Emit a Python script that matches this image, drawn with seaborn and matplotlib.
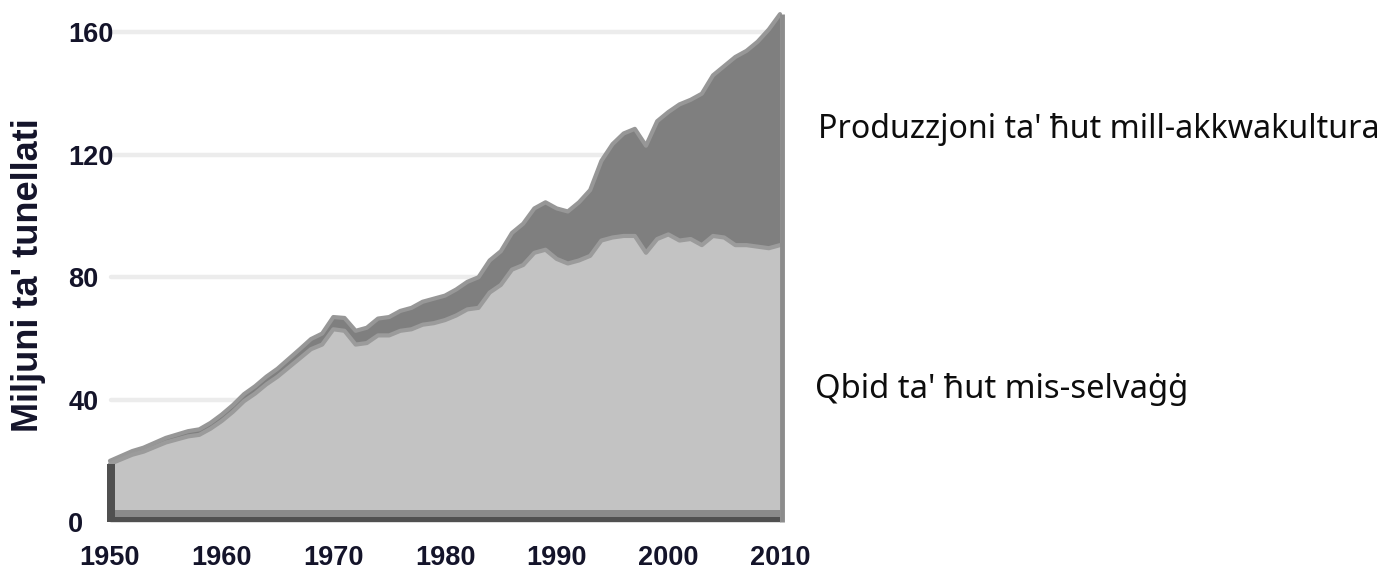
import matplotlib
matplotlib.use("Agg")
import matplotlib.pyplot as plt
from matplotlib import font_manager
import seaborn as sns
import numpy as np
import pandas as pd

# ---------------- data (million tonnes) ----------------
years = list(range(1950, 2011))
wild_capture = [19.0, 20.5, 22.0, 23.0, 24.5, 26.0, 27.0, 28.0, 28.5, 30.5,
                33.0, 36.0, 39.5, 42.0, 45.0, 47.5, 50.5, 53.5, 56.5, 58.0,
                63.0, 62.5, 58.0, 58.5, 61.0, 61.0, 62.5, 63.0, 64.5, 65.0,
                66.0, 67.5, 69.5, 70.0, 75.0, 77.5, 82.5, 84.0, 88.0, 89.0,
                86.0, 84.5, 85.5, 87.0, 92.0, 93.0, 93.5, 93.5, 88.0, 92.5,
                94.0, 92.0, 92.5, 90.5, 93.5, 93.0, 90.5, 90.5, 90.0, 89.5,
                90.5]
aquaculture = [1.0, 1.1, 1.2, 1.3, 1.4, 1.5, 1.6, 1.7, 1.8, 1.9,
               2.1, 2.2, 2.3, 2.4, 2.5, 2.6, 2.8, 3.0, 3.3, 3.6,
               4.0, 4.2, 4.5, 5.0, 5.5, 6.0, 6.5, 7.0, 7.5, 8.0,
               8.0, 8.5, 9.0, 10.0, 10.5, 11.0, 12.0, 13.5, 14.5, 15.5,
               16.5, 17.0, 19.0, 21.5, 26.0, 30.5, 33.5, 35.0, 35.0, 38.5,
               40.0, 44.5, 45.5, 49.5, 52.5, 56.0, 61.5, 63.5, 67.0, 71.5,
               75.5]
x_ticks = [1950, 1960, 1970, 1980, 1990, 2000, 2010]
y_ticks = [0, 40, 80, 120, 160]
y_label = "Miljuni ta' tunellati"
label_aqua = "Produzzjoni ta' ħut mill-akkwakultura"
label_wild = "Qbid ta' ħut mis-selvaġġ"

df = pd.DataFrame({"year": years, "wild": wild_capture, "aqua": aquaculture})
df["total"] = df["wild"] + df["aqua"]

# ---------------- style ----------------
sns.set_theme(style="white")
names = {f.name for f in font_manager.fontManager.ttflist}
bold_sans = "Liberation Sans" if "Liberation Sans" in names else "DejaVu Sans"
label_font = "Noto Sans" if "Noto Sans" in names else "DejaVu Sans"
plt.rcParams["font.family"] = [bold_sans, "DejaVu Sans"]

C_LIGHT = "#c3c3c3"
C_DARK = "#7f7f7f"
C_MID = "#9b9b9b"
C_TOP = "#979797"
C_BASE = "#505050"
C_BASE2 = "#8a8a8a"
TXT = "#14142a"

W, H = 1397, 572
fig = plt.figure(figsize=(W / 100, H / 100), dpi=100)
ax_left = 104.4 / W
ax_right = 785.6 / W
ax_bottom = (H - 525.1) / H
ax_top = (H - 8.0) / H
ax = fig.add_axes([ax_left, ax_bottom, ax_right - ax_left, ax_top - ax_bottom])

ax.set_xlim(1949.5, 2010.5)
ax.set_ylim(-1, 168)

# gridlines
for yt in y_ticks[1:]:
    ax.axhline(yt, xmin=0.01, xmax=0.99, color="#ececec", lw=3.2, zorder=0)

# stacked areas
ax.fill_between(df["year"], 0, df["wild"], color=C_LIGHT, lw=0, zorder=2)
ax.fill_between(df["year"], df["wild"], df["total"], color=C_DARK, lw=0, zorder=2)

# boundaries
sns.lineplot(data=df, x="year", y="total", ax=ax, color=C_TOP, lw=3.0, zorder=3)
sns.lineplot(data=df, x="year", y="wild", ax=ax, color=C_MID, lw=3.0, zorder=3)

# pseudo-3D base / edges
yrs = np.array(years, dtype=float)
ax.fill_between(yrs, 0, 3.8, color=C_BASE2, lw=0, zorder=3)
ax.fill_between(yrs, 0, 1.7, color=C_BASE, lw=0, zorder=4)
ax.fill_betweenx([0, df["wild"].iloc[0]], yrs[0] - 0.25, yrs[0] + 0.45,
                 color=C_BASE, lw=0, zorder=4)
ax.vlines(yrs[-1] + 0.2, 0, df["total"].iloc[-1], color="#8c8c8c", lw=3.5, zorder=4)

# axes styling
for s in ax.spines.values():
    s.set_visible(False)
ax.set_xticks(x_ticks)
ax.set_yticks(y_ticks)
ax.set_xticklabels([str(v) for v in x_ticks])
ax.set_yticklabels([str(v) for v in y_ticks])
ax.tick_params(axis="both", length=0)
ax.tick_params(axis="y", pad=26)
ax.tick_params(axis="x", pad=14)
for lab in ax.get_yticklabels():
    lab.set_horizontalalignment("left")
for lab in ax.get_xticklabels() + ax.get_yticklabels():
    lab.set_fontfamily([bold_sans, "DejaVu Sans"])
    lab.set_fontweight("bold")
    lab.set_fontsize(19.5)
    lab.set_color(TXT)
ax.set_xlabel("")
ax.set_ylabel("")

# y label
fig.text(28.5 / W, 1 - 275 / H, y_label, rotation=90, ha="center", va="center",
         fontsize=26, fontweight="bold", color=TXT, family=[bold_sans, "DejaVu Sans"])

# right-hand labels, fitted to reference widths
t1 = fig.text(818 / W, 1 - 129 / H, label_aqua, ha="left", va="center",
              fontsize=24, fontweight="medium", color="#0d0d0d",
              family=[label_font, "DejaVu Sans"])
t2 = fig.text(815 / W, 1 - 390 / H, label_wild, ha="left", va="center",
              fontsize=24, fontweight="medium", color="#0d0d0d",
              family=[label_font, "DejaVu Sans"])
fig.canvas.draw()
r = fig.canvas.get_renderer()
for t, target in ((t1, 562), (t2, 375)):
    w = t.get_window_extent(r).width
    t.set_fontsize(t.get_fontsize() * target / w)

fig.savefig("out.png", dpi=100)
